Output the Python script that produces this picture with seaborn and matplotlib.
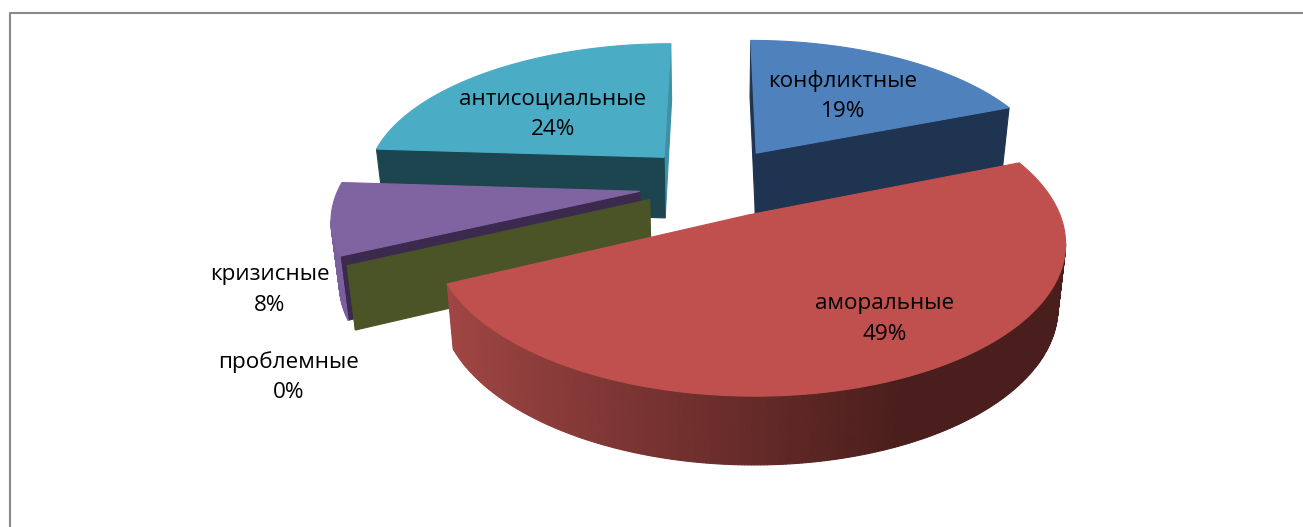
import numpy as np
import matplotlib
matplotlib.use("Agg")
import matplotlib.pyplot as plt
import seaborn as sns
from matplotlib.colors import to_rgb
from matplotlib.patches import Polygon

sns.set_theme(style="white")
plt.rcParams['font.family'] = ['Open Sans', 'DejaVu Sans']

# ===== data =====
categories = ["конфликтные", "аморальные", "проблемные", "кризисные", "антисоциальные"]
values = [19, 49, 0, 8, 24]
top_colors = ["#4f81bd", "#c0504d", "#9bbb59", "#8064a2", "#4bacc6"]
cut_colors = ["#1f3450", "#4f1f1d", "#4a5426", "#3b2a4e", "#1d4550"]
rim_colors = ["#3a608e", "#a04644", "#4a5426", "#7a5f9c", "#3f8fa6"]
rim_dark = "#4a1e1c"

# ===== projection of the tilted pie =====
CX, CY, SCALE = 717, 180, 300
TILT, PERSP, DEPTH, EXPLODE = 0.465, 0.165, 0.205, 0.24
CONVERGE = 0.11
CAMERA_Y = -1 / PERSP
# small pixel corrections per slice, the original renderer places them a bit differently
nudges = [(0, 0), (2, 3), (-1, 5), (-6, 5), (-5, 1)]


def project(x, y, z=0.0, nudge=(0, 0)):
    d = 1 + PERSP * y
    px = CX + SCALE * x / (d * (1 - CONVERGE * z))
    py = CY - SCALE * (TILT * y / d + z / np.sqrt(d))
    return px + nudge[0], py + nudge[1]


def unit(a):
    return np.sin(a), np.cos(a)


fig, ax = plt.subplots(figsize=(13.03, 5.27), dpi=100)
ax.set_position([0, 0, 1, 1])
ax.set_xlim(0, 1303)
ax.set_ylim(527, 0)
ax.axis("off")

# chart frame, cut off on the right and at the bottom
ax.plot([10.2, 10.2, 1303], [527, 13, 13], color="#8a8a8a", lw=1.5)

edges = np.radians(np.r_[0, np.cumsum(values)] * 3.6)
slices = {}
for i, name in enumerate(categories):
    a0, a1 = edges[i], edges[i + 1]
    ox, oy = np.array(unit((a0 + a1) / 2)) * EXPLODE
    slices[name] = (i, a0, a1, ox, oy)


def poly(pts, color, z):
    ax.add_patch(Polygon(np.array(pts), closed=True, fc=color, ec=color, lw=0.8, zorder=z))


def draw_slice(name, zbase):
    i, a0, a1, ox, oy = slices[name]
    nudge = nudges[i]
    t = np.linspace(a0, a1, max(int(np.degrees(a1 - a0)) * 2, 2))

    # cut walls, only those facing the camera
    to_cam = np.array([-ox, CAMERA_Y - oy])
    normal0 = np.array([-np.cos(a0), np.sin(a0)])
    normal1 = np.array([np.cos(a1), -np.sin(a1)])
    for a, n, thin in ((a1, normal1, True), (a0, normal0, False)):
        if n @ to_cam <= 0:
            continue
        sx, sy = unit(a)
        # the near-edge-on wall of the teal slice catches more light
        color = rim_colors[i] if thin and name == "антисоциальные" else cut_colors[i]
        poly([project(ox, oy, 0, nudge), project(ox + sx, oy + sy, 0, nudge),
              project(ox + sx, oy + sy, -DEPTH, nudge), project(ox, oy, -DEPTH, nudge)],
             color, zbase)
        zbase += 0.01

    # outer wall, shaded strip by strip
    for v0, v1 in zip(t[:-1], t[1:]):
        v = (v0 + v1) / 2
        outward = np.array(unit(v))
        if outward @ (to_cam - outward) <= 0:
            continue
        color = rim_colors[i]
        if name == "аморальные":
            f = np.clip((np.sin(v) + 0.9) / 1.3, 0, 1)
            color = tuple((1 - f) * np.array(to_rgb(rim_colors[i])) + f * np.array(to_rgb(rim_dark)))
        poly([project(ox + np.sin(v0), oy + np.cos(v0), 0, nudge),
              project(ox + np.sin(v1), oy + np.cos(v1), 0, nudge),
              project(ox + np.sin(v1), oy + np.cos(v1), -DEPTH, nudge),
              project(ox + np.sin(v0), oy + np.cos(v0), -DEPTH, nudge)], color, zbase + 0.1)

    # top face
    if a1 > a0:
        rim = [project(ox + np.sin(v), oy + np.cos(v), 0, nudge) for v in t]
        poly([project(ox, oy, 0, nudge)] + rim, top_colors[i], zbase + 0.2)


# back to front
draw_slice("антисоциальные", 1)
draw_slice("конфликтные", 2)
draw_slice("кризисные", 3)
draw_slice("проблемные", 4)
draw_slice("аморальные", 5)

# ===== labels =====
label_pos = [(843, 96), (885, 319), (289, 377), (270, 290), (553, 114)]
for name, v, (lx, ly) in zip(categories, values, label_pos):
    ax.text(lx, ly, f"{name}\n{v}%", ha="center", va="center", fontsize=16.2,
            color="black", linespacing=1.6, zorder=10)

fig.savefig("out.png", dpi=100)
